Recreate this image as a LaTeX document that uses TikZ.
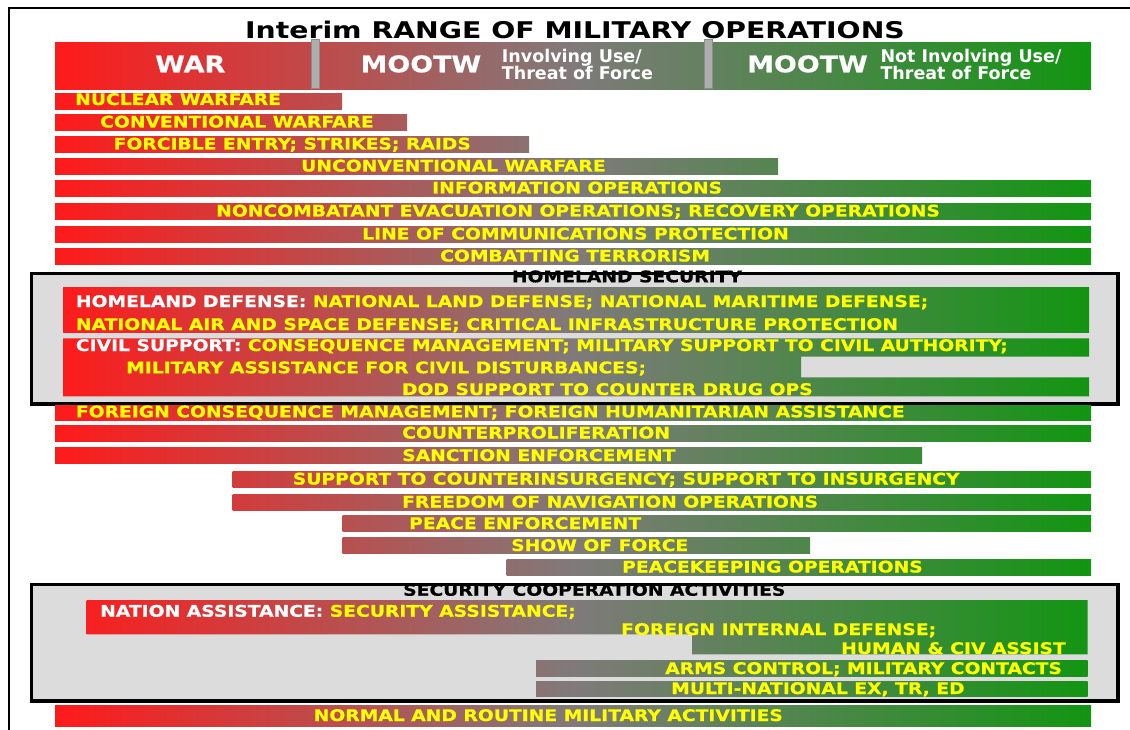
\documentclass[tikz,border=0pt]{standalone}
\usepackage{fontspec}
\usepackage{tikz}
\usetikzlibrary{positioning}
\newfontfamily\opsfont{DejaVu Sans Bold}[FakeStretch=1.17, FakeBold=0.6]
\newfontfamily\hdrfont{DejaVu Sans Bold}[FakeStretch=1.17, FakeBold=0.6]
\newfontfamily\ttlfont{DejaVu Sans Bold}[FakeStretch=1.23]
\newfontfamily\subfont{DejaVu Sans Bold}
\definecolor{warred}{HTML}{FF1A1A}
\definecolor{midgray}{HTML}{807A7A}
\definecolor{peacegreen}{HTML}{129512}
\definecolor{boxgray}{HTML}{DCDCDC}
\definecolor{divgray}{HTML}{AEAEAE}
\definecolor{divedge}{HTML}{8C8C8C}
\definecolor{opsyellow}{HTML}{FFFF00}
\tikzstyle{gradfill} = [path picture={\shade[left color=warred, right color=peacegreen, middle color=midgray] (gl |- path picture bounding box.north) rectangle (gr |- path picture bounding box.south);}]
\tikzstyle{bar} = [rectangle, inner sep=0pt, anchor=west, minimum height=16pt, gradfill]
\tikzstyle{ops} = [inner sep=0pt, anchor=base west, text=opsyellow, font=\opsfont\fontsize{16}{16}\selectfont]
\tikzstyle{boxtitle} = [ops, text=black]
\tikzstyle{secbox} = [rectangle, inner sep=0pt, anchor=north west, draw=black, line width=3.5pt, fill=boxgray]
\tikzstyle{hdr} = [inner sep=0pt, anchor=base west, text=white, font=\hdrfont\fontsize{23}{23}\selectfont]
\tikzstyle{hdrsub} = [inner sep=0pt, anchor=base west, text=white, font=\subfont\fontsize{17.5}{17.5}\selectfont]
\tikzstyle{divider} = [rectangle, inner sep=0pt, minimum width=8pt, minimum height=49pt, fill=divgray, draw=divedge, line width=0.6pt]
\begin{document}
\begin{tikzpicture}[x=1pt, y=-1pt]
    \path[fill=white, use as bounding box] (0,0) rectangle (1130,730);
    \coordinate (gl) at (55,0);
    \coordinate (gr) at (1091,0);
    \draw[line width=2.8pt] (9,730) -- (9,8) -- (1130,8);
    \node (title) [inner sep=0pt, anchor=base west, font=\ttlfont\fontsize{23}{23}\selectfont] at (245,39)
      {Interim RANGE OF MILITARY OPERATIONS};
    \node (head) [bar, minimum width=1036, minimum height=47] at (55,65.7) {};
    \node (divA) [divider] at (315,63.5) {};
    \node (divB) [divider] at (708.3,63.5) {};
    \node (war) [hdr] at (155,72.3) {WAR};
    \node (mootwA) [hdr] at (360.4,72.3) {MOOTW};
    \node (invA) [hdrsub] at (501.7,63) {Involving Use/};
    \node (invB) [hdrsub] at (501.7,79.7) {Threat of Force};
    \node (mootwB) [hdr] at (747,72.3) {MOOTW};
    \node (notA) [hdrsub] at (880.3,62.5) {Not Involving Use/};
    \node (notB) [hdrsub] at (880.3,79.7) {Threat of Force};

    \node (nuc) [bar, minimum width=287] at (55,101.5) {};
    \node (conv) [bar, minimum width=352] at (55,122.5) {};
    \node (forc) [bar, minimum width=474] at (55,144.5) {};
    \node (unconv) [bar, minimum width=723] at (55,166.5) {};
    \node (info) [bar, minimum width=1036] at (55,188.5) {};
    \node (neo) [bar, minimum width=1036] at (55,211.5) {};
    \node (loc) [bar, minimum width=1036] at (55,234.5) {};
    \node (comb) [bar, minimum width=1036] at (55,256.5) {};
    \node (nucT) [ops] at (75,105) {NUCLEAR WARFARE};
    \node (convT) [ops] at (100,127.5) {CONVENTIONAL WARFARE};
    \node (forcT) [ops] at (113.5,149.5) {FORCIBLE ENTRY; STRIKES; RAIDS};
    \node (unconvT) [ops] at (301,171.5) {UNCONVENTIONAL WARFARE};
    \node (infoT) [ops] at (432,193.5) {INFORMATION OPERATIONS};
    \node (neoT) [ops] at (216,216.5) {NONCOMBATANT EVACUATION OPERATIONS; RECOVERY OPERATIONS};
    \node (locT) [ops] at (362,239.5) {LINE OF COMMUNICATIONS PROTECTION};
    \node (combT) [ops] at (440,261.5) {COMBATTING TERRORISM};

    \node (hsbox) [secbox, minimum width=1086.5, minimum height=130.5] at (29.75,271.75) {};
    \node (hsT) [boxtitle] at (511.7,282.3) {HOMELAND SECURITY};
    \node (hd) [bar, minimum width=1026, minimum height=45] at (63,310.2) {};
    \path[gradfill] (63,338.3) -- (1089,338.3) -- (1089,356.7) -- (801,356.7) -- (801,377.3)
      -- (1089,377.3) -- (1089,396.3) -- (63,396.3) -- cycle;
    \node (hdA) [ops] at (75.7,307) {\textcolor{white}{HOMELAND DEFENSE:} NATIONAL LAND DEFENSE; NATIONAL MARITIME DEFENSE;};
    \node (hdB) [ops] at (75.7,330) {NATIONAL AIR AND SPACE DEFENSE; CRITICAL INFRASTRUCTURE PROTECTION};
    \node (csA) [ops] at (75.7,351) {\textcolor{white}{CIVIL SUPPORT:} CONSEQUENCE MANAGEMENT; MILITARY SUPPORT TO CIVIL AUTHORITY;};
    \node (csB) [ops] at (126,373.3) {MILITARY ASSISTANCE FOR CIVIL DISTURBANCES;};
    \node (csC) [ops] at (401.8,395) {DOD SUPPORT TO COUNTER DRUG OPS};

    \node (fcm) [bar, minimum width=1036, minimum height=15] at (55,412.5) {};
    \node (cp) [bar, minimum width=1036] at (55,433) {};
    \node (san) [bar, minimum width=867] at (55,455.5) {};
    \node (coin) [bar, minimum width=858.6] at (232.4,479) {};
    \node (fon) [bar, minimum width=858.6] at (232.4,502) {};
    \node (pe) [bar, minimum width=748.7] at (342.3,523.5) {};
    \node (sof) [bar, minimum width=467.7] at (342.3,545.5) {};
    \node (pk) [bar, minimum width=584.7] at (506.3,567) {};
    \node (fcmT) [ops] at (75.7,417.3) {FOREIGN CONSEQUENCE MANAGEMENT; FOREIGN HUMANITARIAN ASSISTANCE};
    \node (cpT) [ops] at (402,438.5) {COUNTERPROLIFERATION};
    \node (sanT) [ops] at (402,461) {SANCTION ENFORCEMENT};
    \node (coinT) [ops] at (292.6,484.5) {SUPPORT TO COUNTERINSURGENCY; SUPPORT TO INSURGENCY};
    \node (fonT) [ops] at (402,507.5) {FREEDOM OF NAVIGATION OPERATIONS};
    \node (peT) [ops] at (409,529) {PEACE ENFORCEMENT};
    \node (sofT) [ops] at (511,551) {SHOW OF FORCE};
    \node (pkT) [ops] at (622,572.5) {PEACEKEEPING OPERATIONS};

    \node (scbox) [secbox, minimum width=1086.5, minimum height=116.5] at (29.75,582.75) {};
    \node (scT) [boxtitle] at (403,595.7) {SECURITY COOPERATION ACTIVITIES};
    \path[gradfill] (86.5,600) -- (1087.5,600) -- (1087.5,654.3) -- (692,654.3) -- (692,634.3)
      -- (86.5,634.3) -- cycle;
    \node (arms) [bar, minimum width=551.5] at (536,668) {};
    \node (mne) [bar, minimum width=551.5, minimum height=15] at (536,688.5) {};
    \node (naA) [ops] at (100,616.7) {\textcolor{white}{NATION ASSISTANCE:} SECURITY ASSISTANCE;};
    \node (naB) [ops] at (621,635) {FOREIGN INTERNAL DEFENSE;};
    \node (naC) [ops] at (841,654) {HUMAN \& CIV ASSIST};
    \node (armsT) [ops] at (665,674) {ARMS CONTROL; MILITARY CONTACTS};
    \node (mneT) [ops] at (671,694) {MULTI-NATIONAL EX, TR, ED};

    \node (norm) [bar, minimum width=1036, minimum height=21] at (55,716.2) {};
    \node (normT) [ops] at (313.5,721) {NORMAL AND ROUTINE MILITARY ACTIVITIES};
  \end{tikzpicture}
\end{document}
